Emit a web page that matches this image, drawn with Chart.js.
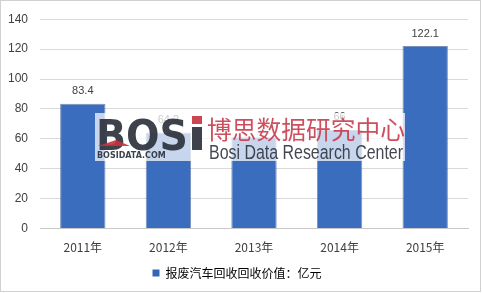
<!DOCTYPE html>
<html><head><meta charset="utf-8">
<script src="https://cdn.jsdelivr.net/npm/chart.js@4/dist/chart.umd.min.js"></script>
<style>html,body{margin:0;padding:0;background:#fff;}#wrap{width:482px;height:293px;position:relative;}</style>
</head><body><div id="wrap"><canvas id="c" width="482" height="293"></canvas></div>
<script>
const categories = ["2011年","2012年","2013年","2014年","2015年"];
const values = [83.4, 64.2, 61, 66, 122.1];
const valueLabels = ["83.4","64.2","","66","122.1"];
const seriesName = "报废汽车回收回收价值：亿元";
const yTicks = [0,20,40,60,80,100,120,140];

const barLabels = {
  id:'barLabels',
  afterDatasetsDraw(chart){
    const ctx=chart.ctx; const meta=chart.getDatasetMeta(0);
    ctx.save(); ctx.font='11px "Liberation Sans", Arial, sans-serif'; ctx.fillStyle='#404040';
    ctx.textAlign='center'; ctx.textBaseline='bottom';
    meta.data.forEach((b,i)=>{ if(valueLabels[i]) ctx.fillText(valueLabels[i], b.x, b.y-7); });
    ctx.restore();
  }
};
const watermark = {
  id:'watermark',
  afterDraw(chart){
    const ctx=chart.ctx; ctx.save();
    ctx.fillStyle='rgba(255,255,255,0.72)'; ctx.fillRect(95,113,310,48);
    ctx.fillStyle='rgba(40,45,55,0.9)'; ctx.font='bold 42px "DejaVu Sans", sans-serif';
    ctx.textBaseline='alphabetic'; ctx.textAlign='left';
    ctx.fillText('BOS',96,150,92);
    ctx.fillStyle='rgba(40,45,55,0.9)'; ctx.fillRect(192,127,10,23);
    ctx.fillStyle='rgba(200,50,60,0.9)'; ctx.fillRect(192,116,10,8);
    ctx.beginPath(); ctx.moveTo(98,146); ctx.lineTo(130,146); ctx.lineTo(116,140); ctx.closePath(); ctx.fill();
    ctx.fillStyle='rgba(40,45,55,0.9)'; ctx.font='bold 8px "DejaVu Sans", sans-serif';
    ctx.fillText('BOSIDATA.COM',97,158,104);
    ctx.fillStyle='rgba(200,60,75,0.9)'; ctx.font='25px "Noto Sans CJK SC", sans-serif';
    ctx.fillText('博思数据研究中心',207,139,198);
    ctx.fillStyle='rgba(50,55,65,0.92)'; ctx.font='20px "Liberation Sans", sans-serif';
    ctx.fillText('Bosi Data Research Center',209,159,194);
    ctx.strokeStyle='#d0d0d0'; ctx.lineWidth=1; ctx.strokeRect(0.5,0.5,480,291);
    ctx.restore();
  }
};
function barGrad(c){
  const chart=c.chart; const el=c.element;
  if(!chart.chartArea||!el||el.width===undefined) return '#3a6dbd';
  const x0=el.x-el.width/2, x1=el.x+el.width/2;
  const g=chart.ctx.createLinearGradient(x0,0,x1,0);
  g.addColorStop(0,'#4a82d4'); g.addColorStop(0.15,'#3f74c6'); g.addColorStop(0.85,'#2f62b0'); g.addColorStop(1,'#23508f');
  return g;
}
new Chart(document.getElementById('c'),{
  type:'bar',
  data:{labels:categories,datasets:[{label:seriesName,data:values,backgroundColor:barGrad,borderColor:'rgba(30,70,140,0.6)',borderWidth:1,categoryPercentage:1,barPercentage:0.53}]},
  options:{responsive:false,animation:false,
    layout:{padding:{left:6,right:14,top:8,bottom:4}},
    plugins:{legend:{position:'bottom',labels:{boxWidth:7,boxHeight:7,color:'#404040',font:{size:12,family:'"Noto Sans CJK SC", sans-serif'},padding:8,
      generateLabels(ch){return [{text:seriesName,fillStyle:'#3566b5',strokeStyle:'#3566b5',lineWidth:0,datasetIndex:0}];}}},tooltip:{enabled:false}},
    scales:{
      x:{grid:{display:false},border:{color:'#c8c8c8'},ticks:{color:'#404040',font:{size:12,family:'"Noto Sans CJK SC", sans-serif'},padding:4}},
      y:{min:0,max:140,afterBuildTicks(ax){ax.ticks=yTicks.map(v=>({value:v}));},afterFit(ax){ax.width=34;},
        grid:{color:'#d9d9d9',drawTicks:false},border:{display:false},ticks:{color:'#404040',padding:12,font:{size:12,family:'"Liberation Sans", Arial, sans-serif'}}}
    }
  },
  plugins:[barLabels,watermark]
});
</script></body></html>
